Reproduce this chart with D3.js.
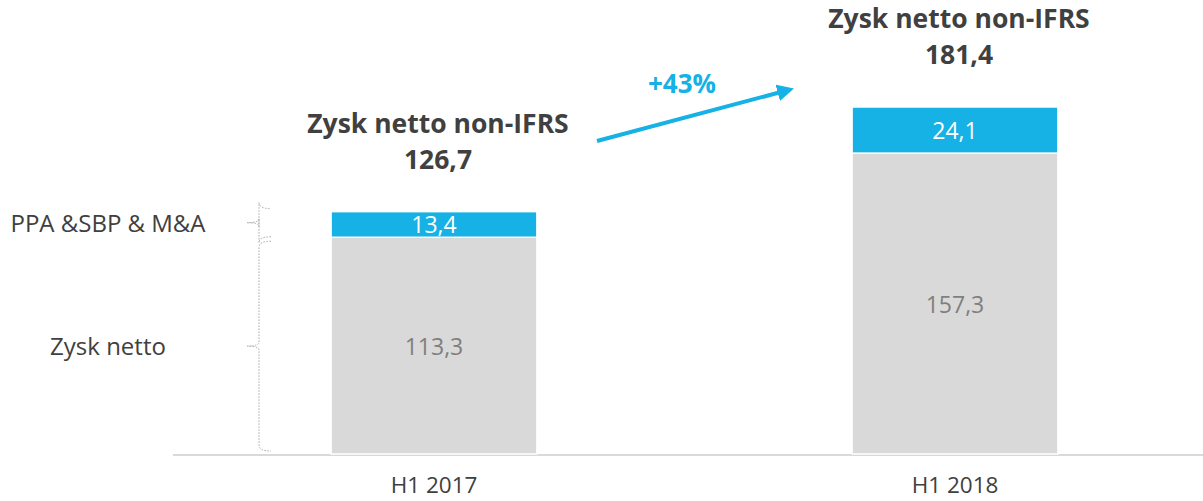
<!DOCTYPE html>
<html><head><meta charset="utf-8">
<script src="https://cdn.jsdelivr.net/npm/d3@7"></script>
<style>body{margin:0;background:#fff}svg{display:block;font-family:"Open Sans",sans-serif}</style>
</head><body>
<svg id="c" width="1203" height="501"></svg>
<script>
const categories = ["H1 2017", "H1 2018"];
const netProfit = [113.3, 157.3];
const adjustments = [13.4, 24.1];
const totals = [126.7, 181.4];
const netLabels = ["113,3", "157,3"];
const adjLabels = ["13,4", "24,1"];
const totalLabels = ["126,7", "181,4"];
const seriesNames = ["Zysk netto", "PPA &SBP & M&A"];
const growthLabel = "+43%";
const titleText = "Zysk netto non-IFRS";

const svg = d3.select("#c");
const blue = "#16b1e5", gray = "#d9d9d9";
const baseY = 454;
const x = d3.scaleBand().domain(categories).range([173.5, 1215.5]).paddingInner(0.605).paddingOuter(0.3025);
const y = d3.scaleLinear().domain([0, 181.4]).range([baseY, 107]);

const data = categories.map((c, i) => ({c, net: netProfit[i], adj: adjustments[i], total: totals[i], i}));

// axis
const axis = svg.append("g").attr("transform", `translate(0,${baseY})`).call(d3.axisBottom(x).tickSize(0).tickPadding(23));
axis.select(".domain").remove();
svg.append("line").attr("x1", 173).attr("x2", 1203).attr("y1", baseY + 1).attr("y2", baseY + 1).attr("stroke", "#d9d9d9").attr("stroke-width", 2);
axis.selectAll("text").attr("font-size", 22.5).attr("fill", "#404040").attr("font-family", "'Open Sans',sans-serif");

// bars
const g = svg.append("g");
g.selectAll(".net").data(data).join("rect")
  .attr("x", d => x(d.c)).attr("width", x.bandwidth())
  .attr("y", d => y(d.net)).attr("height", d => y(0) - y(d.net))
  .attr("fill", gray).attr("stroke", "#fff").attr("stroke-width", 1.5);
g.selectAll(".adj").data(data).join("rect")
  .attr("x", d => x(d.c)).attr("width", x.bandwidth())
  .attr("y", d => y(d.total)).attr("height", d => y(d.net) - y(d.total))
  .attr("fill", blue).attr("stroke", "#fff").attr("stroke-width", 1.5);

// value labels
g.selectAll(".nl").data(data).join("text")
  .attr("x", d => x(d.c) + x.bandwidth() / 2).attr("y", d => y(d.net / 2) + 9)
  .attr("text-anchor", "middle")
  .attr("font-size", 23).attr("fill", "#7f7f7f").text(d => netLabels[d.i]);
g.selectAll(".al").data(data).join("text")
  .attr("x", d => x(d.c) + x.bandwidth() / 2).attr("y", d => y(d.net + d.adj / 2) + 9)
  .attr("text-anchor", "middle")
  .attr("font-size", 23).attr("fill", "#fff").text(d => adjLabels[d.i]);

// totals titles
const tg = svg.selectAll(".tt").data(data).join("text")
  .attr("text-anchor", "middle").attr("font-weight", "bold").attr("font-size", 26.5).attr("fill", "#404040");
tg.append("tspan").attr("x", d => x(d.c) + x.bandwidth() / 2 + 4).attr("y", d => y(d.total) - 79).text(titleText);
tg.append("tspan").attr("x", d => x(d.c) + x.bandwidth() / 2 + 4).attr("y", d => y(d.total) - 43).text(d => totalLabels[d.i]);

// growth arrow
const defs = svg.append("defs");
defs.append("marker").attr("id", "ah").attr("viewBox", "0 0 10 10").attr("refX", 2).attr("refY", 5)
  .attr("markerWidth", 4.2).attr("markerHeight", 4.2).attr("orient", "auto")
  .append("path").attr("d", "M0,0 L10,5 L0,10 Z").attr("fill", blue);
svg.append("line").attr("x1", 597).attr("y1", 141).attr("x2", 781).attr("y2", 92)
  .attr("stroke", blue).attr("stroke-width", 4).attr("marker-end", "url(#ah)");
svg.append("text").attr("x", 682).attr("y", 93).attr("text-anchor", "middle")
  .attr("font-weight", "bold").attr("font-size", 26).attr("fill", blue).text(growthLabel);

// braces for first bar
function brace(top, bot) {
  const xv = 259, xe = 271, xt = 247, mid = (top + bot) / 2;
  return `M${xe},${top} Q${xv},${top} ${xv},${top + 6} L${xv},${mid - 4} Q${xv},${mid} ${xt},${mid} Q${xv},${mid} ${xv},${mid + 4} L${xv},${bot - 6} Q${xv},${bot} ${xe},${bot}`;
}
const d0 = data[0];
const braces = [
  {top: y(0) - 3, bot: y(d0.net) + 4, name: seriesNames[0]},
  {top: y(d0.total) - 3, bot: y(d0.net) - 0.5, name: seriesNames[1]}
];
svg.selectAll(".br").data(braces).join("path").attr("d", b => brace(b.bot, b.top))
  .attr("fill", "none").attr("stroke", "#a6a6a6").attr("stroke-width", 1).attr("stroke-dasharray", "1.5,1.5");
svg.selectAll(".bl").data(braces).join("text")
  .attr("x", 108).attr("y", b => (b.top + b.bot) / 2 + 9)
  .attr("text-anchor", "middle").attr("font-size", 24).attr("fill", "#404040").text(b => b.name);
</script>
</body></html>
